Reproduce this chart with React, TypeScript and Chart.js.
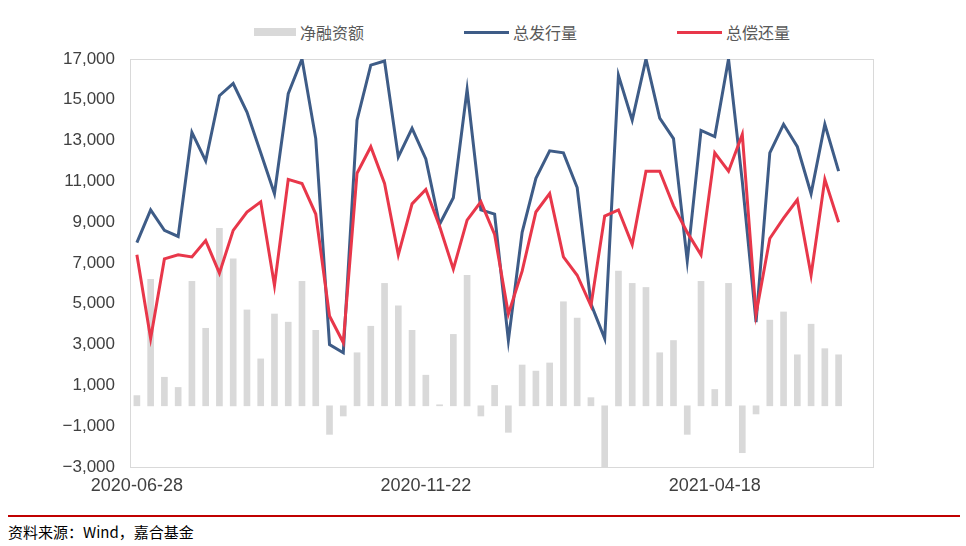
import React, { useEffect, useRef } from "react";
import { Chart, registerables } from "chart.js";

Chart.register(...registerables);

const categories: string[] = [
  "2020-06-28", "2020-07-05", "2020-07-12", "2020-07-19", "2020-07-26", "2020-08-02",
  "2020-08-09", "2020-08-16", "2020-08-23", "2020-08-30", "2020-09-06", "2020-09-13",
  "2020-09-20", "2020-09-27", "2020-10-04", "2020-10-11", "2020-10-18", "2020-10-25",
  "2020-11-01", "2020-11-08", "2020-11-15", "2020-11-22", "2020-11-29", "2020-12-06",
  "2020-12-13", "2020-12-20", "2020-12-27", "2021-01-03", "2021-01-10", "2021-01-17",
  "2021-01-24", "2021-01-31", "2021-02-07", "2021-02-14", "2021-02-21", "2021-02-28",
  "2021-03-07", "2021-03-14", "2021-03-21", "2021-03-28", "2021-04-04", "2021-04-11",
  "2021-04-18", "2021-04-25", "2021-05-02", "2021-05-09", "2021-05-16", "2021-05-23",
  "2021-05-30", "2021-06-06", "2021-06-13", "2021-06-20", "2021-06-27", "2021-07-04",
];

// 净融资额
const netFinancing: number[] = [
  500, 6200, 1400, 900, 6100, 3800, 8700, 7200, 4700, 2300, 4500, 4100,
  6100, 3700, -1400, -500, 2600, 3900, 6000, 4900, 3700, 1500, 50, 3500,
  6400, -500, 1000, -1300, 2000, 1700, 2100, 5100, 4300, 400, -5900, 6600,
  6000, 5800, 2600, 3200, -1400, 6100, 800, 6000, -2300, -400, 4200, 4600,
  2500, 4000, 2800, 2500,
];

// 总发行量
const totalIssuance: number[] = [
  8000, 9600, 8600, 8300, 13400, 12000, 15200, 15800, 14400, 12400, 10400, 15300,
  17000, 13100, 3000, 2600, 14000, 16700, 16900, 12200, 13600, 12100, 8900, 10200,
  15500, 9600, 9400, 3200, 8500, 11150, 12500, 12400, 10700, 5000, 3300, 16200,
  14000, 17000, 14100, 13100, 7100, 13500, 13200, 17000, 11000, 4100, 12400, 13800,
  12700, 10400, 13800, 11500,
];

// 总偿还量
const totalRepayment: number[] = [
  7400, 3300, 7200, 7400, 7300, 8100, 6500, 8600, 9500, 10000, 5900, 11100,
  10900, 9400, 4400, 3100, 11400, 12700, 10900, 7400, 9900, 10600, 8800, 6700,
  9100, 10000, 8400, 4500, 6600, 9500, 10400, 7300, 6400, 4900, 9300, 9600,
  7900, 11500, 11500, 9800, 8500, 7400, 12400, 11500, 13300, 4500, 8200, 9200,
  10100, 6400, 11100, 9000,
];

const yMin = -3000;
const yMax = 17000;
const yStep = 2000;
const labelEvery = 21;

const seriesNames = ["净融资额", "总发行量", "总偿还量"];
const barColor = "#d9d9d9";
const blueColor = "#3e5c87";
const redColor = "#e8374a";

const framePlugin = {
  id: "frame",
  beforeDatasetsDraw(chart: any) {
    const { ctx, chartArea } = chart;
    ctx.save();
    ctx.strokeStyle = "#d9d9d9";
    ctx.lineWidth = 1;
    ctx.strokeRect(
      Math.round(chartArea.left) + 0.5,
      Math.round(chartArea.top) + 0.5,
      Math.round(chartArea.right - chartArea.left),
      Math.round(chartArea.bottom - chartArea.top)
    );
    ctx.restore();
  },
};

const fmt = (v: number) => {
  const s = Math.abs(v).toLocaleString("en-US");
  return v < 0 ? "−" + s : s;
};

export default function App() {
  const ref = useRef<HTMLCanvasElement | null>(null);

  useEffect(() => {
    if (!ref.current) return;
    const family = "'Liberation Sans', Arial, sans-serif";
    const chart = new Chart(ref.current, {
      type: "bar",
      data: {
        labels: categories,
        datasets: [
          {
            type: "line",
            label: seriesNames[2],
            data: totalRepayment,
            borderColor: redColor,
            backgroundColor: redColor,
            borderWidth: 3,
            pointRadius: 0,
            tension: 0,
            order: 0,
          } as any,
          {
            type: "line",
            label: seriesNames[1],
            data: totalIssuance,
            borderColor: blueColor,
            backgroundColor: blueColor,
            borderWidth: 3,
            pointRadius: 0,
            tension: 0,
            order: 1,
          } as any,
          {
            type: "bar",
            label: seriesNames[0],
            data: netFinancing,
            backgroundColor: barColor,
            barThickness: 6,
            clip: 0,
            order: 2,
          } as any,
        ],
      },
      options: {
        responsive: false,
        animation: false,
        layout: { padding: { top: 59, right: 93, left: 0, bottom: 0 } },
        plugins: {
          legend: { display: false },
          tooltip: { enabled: false },
        },
        scales: {
          x: {
            type: "category",
            offset: true,
            grid: { display: false },
            border: { display: false },
            ticks: {
              autoSkip: false,
              maxRotation: 0,
              minRotation: 0,
              padding: 0,
              color: "#404040",
              font: { family, size: 18 },
              callback: (_v: any, i: number) => (i % labelEvery === 0 ? categories[i] : ""),
            },
            afterFit: (scale: any) => {
              scale.height = 38;
            },
          },
          y: {
            min: yMin,
            max: yMax,
            grid: { display: false },
            border: { display: false },
            ticks: {
              stepSize: yStep,
              padding: 7,
              color: "#404040",
              font: { family, size: 17 },
              callback: (v: any) => fmt(Number(v)),
            },
            afterFit: (scale: any) => {
              scale.width = 130;
            },
          },
        },
      } as any,
      plugins: [framePlugin],
    });
    return () => chart.destroy();
  }, []);

  const legendText: React.CSSProperties = {
    fontFamily: "'Noto Sans CJK SC', sans-serif",
    fontSize: 16,
    color: "#595959",
    marginLeft: 4,
    lineHeight: "20px",
  };

  return (
    <div
      style={{
        position: "fixed",
        left: 0,
        top: 0,
        width: 966,
        height: 546,
        background: "#ffffff",
        overflow: "hidden",
      }}
    >
      <div
        style={{
          position: "absolute",
          left: 254,
          top: 22,
          display: "flex",
          alignItems: "center",
          gap: 100,
        }}
      >
        <div style={{ display: "flex", alignItems: "center" }}>
          <div style={{ width: 42, height: 8, background: barColor }} />
          <span style={legendText}>{seriesNames[0]}</span>
        </div>
        <div style={{ display: "flex", alignItems: "center" }}>
          <div style={{ width: 45, height: 3, background: blueColor }} />
          <span style={legendText}>{seriesNames[1]}</span>
        </div>
        <div style={{ display: "flex", alignItems: "center" }}>
          <div style={{ width: 45, height: 3, background: redColor }} />
          <span style={legendText}>{seriesNames[2]}</span>
        </div>
      </div>
      <canvas
        ref={ref}
        width={966}
        height={505}
        style={{ position: "absolute", left: 0, top: 0, width: 966, height: 505 }}
      />
      <div
        style={{
          position: "absolute",
          left: 8,
          top: 515,
          width: 952,
          height: 2,
          background: "#c00000",
        }}
      />
      <div
        style={{
          position: "absolute",
          left: 8,
          top: 522,
          fontFamily: "'Noto Sans CJK SC', sans-serif",
          fontSize: 15,
          color: "#000000",
          lineHeight: "20px",
          whiteSpace: "nowrap",
        }}
      >
        资料来源：Wind，嘉合基金
      </div>
    </div>
  );
}
